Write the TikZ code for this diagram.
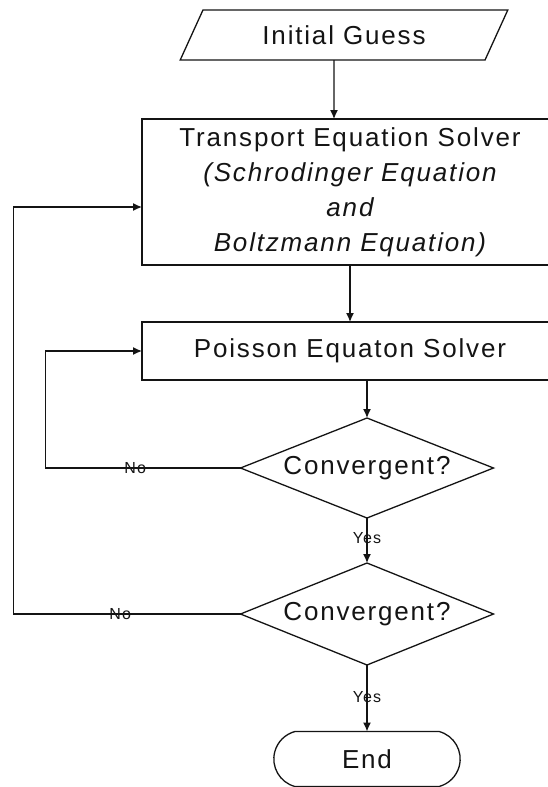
\documentclass[tikz,border=0pt]{standalone}
\usepackage{fontspec}
\setmainfont{Liberation Sans}
\newfontfamily\chartfont{Liberation Sans}[LetterSpace=7]
\usepackage{xcolor}
\usepackage{tikz}
\usetikzlibrary{arrows.meta,positioning,calc,shapes.geometric,shapes.misc}
\definecolor{ink}{HTML}{141414}

\begin{document}
\begin{tikzpicture}[x=1pt,y=-1pt,
  every node/.style={outer sep=0pt},
  boxtext/.style={font=\chartfont\fontsize{26}{35}\selectfont, color=ink},
  stepbox/.style={boxtext, draw=ink, line width=1.3pt, rectangle, align=center},
  iobox/.style={boxtext, draw=ink, line width=1.3pt, trapezium, trapezium left angle=62,
                trapezium right angle=118, trapezium stretches=true},
  testbox/.style={boxtext, draw=ink, line width=1.3pt, diamond, aspect=2.53, inner sep=0pt},
  stopbox/.style={boxtext, draw=ink, line width=1.3pt, rounded rectangle, rounded rectangle arc length=150},
  flow/.style={draw=ink, line width=1.3pt, -{Latex[length=9pt,width=8pt]}},
  answer/.style={font=\chartfont\fontsize{16}{16}\selectfont, color=ink, inner sep=0pt}]
 \useasboundingbox (0,0) rectangle (548,787);
 \clip (0,0) rectangle (548,787);
 \fill[white] (0,0) rectangle (548,787);
 % blocks
 \node[iobox, minimum width=328, minimum height=50] (guess) at (344,35) {Initial Guess};
 \node[stepbox, minimum width=416, minimum height=146] (trans) at (350,192)
  {Transport Equation Solver\\ \itshape(Schrodinger Equation\\ \itshape and\\ \itshape Boltzmann Equation)};
 \node[stepbox, minimum width=416, minimum height=58] (poisson) at (350,351) {Poisson Equaton Solver};
 \node[testbox, minimum width=253, minimum height=100] (conv1) at (367,468) {Convergent?};
 \node[testbox, minimum width=253, minimum height=102] (conv2) at (367,614) {Convergent?};
 \node[stopbox, minimum width=193, minimum height=55] (stop) at (367,759) {End};
 % connectors
 \draw[flow] ([xshift=-10pt]guess.south) -- ([xshift=-16pt]trans.north);
 \draw[flow] (trans.south) -- (poisson.north);
 \draw[flow] ([xshift=17pt]poisson.south) -- (conv1.north);
 \draw[flow] (conv1.south) -- node[answer, pos=0.45] {Yes} (conv2.north);
 \draw[flow] (conv2.south) -- node[answer, pos=0.48] {Yes} (stop.north);
 \draw[flow] (conv1.west) -- node[answer, pos=0.54] {No} ++(-195,0) |- (poisson.west);
 \draw[flow] (conv2.west) -- node[answer, pos=0.53] {No} ++(-227,0) |- ([yshift=-15pt]trans.west);
\end{tikzpicture}
\end{document}
